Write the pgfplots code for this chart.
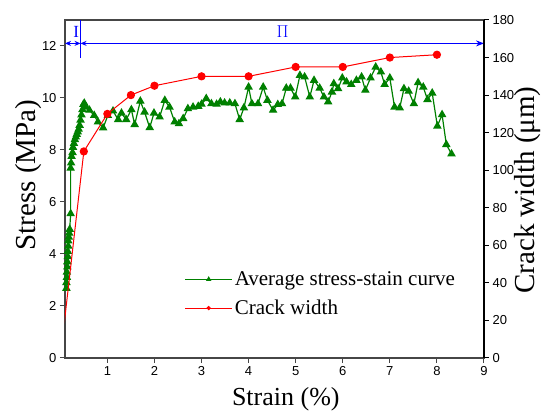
\documentclass[border=0pt]{standalone}
\usepackage{pgfplots}
\pgfplotsset{compat=1.18}
\usepackage{fontspec}
\setmainfont{Liberation Serif}
\setsansfont{Liberation Sans}
\usetikzlibrary{arrows.meta}
\definecolor{dgreen}{RGB}{0,128,0}
\definecolor{axgray}{RGB}{70,70,70}
\begin{document}
\begin{tikzpicture}
\useasboundingbox (-65pt,-57pt) rectangle (477pt,358pt);
\begin{axis}[
  at={(0pt,0pt)}, anchor=south west,
  scale only axis, width=419pt, height=338pt,
  xmin=0.1, xmax=9, ymin=0, ymax=13,
  xtick={1,2,...,9}, ytick={0,2,...,12},
  xtick pos=bottom, ytick pos=left,
  tick align=outside, major tick length=5pt,
  axis line style={axgray, line width=1.2pt},
  every tick/.style={axgray, line width=1pt},
  /pgf/number format/assume math mode=true,
  tick label style={font=\sffamily\fontsize{13}{15}\selectfont},
  xlabel={Strain (\%)}, ylabel={Stress (MPa)},
  xlabel style={font=\fontsize{26}{30}\selectfont, at={(axis description cs:0.527,-0.121)}, anchor=center},
  ylabel style={font=\fontsize{29}{33}\selectfont, at={(axis description cs:-0.088,0.541)}, anchor=center},
  legend style={draw=none, fill=none, at={(axis description cs:0.285,0.262)}, anchor=north west,
    font=\fontsize{21}{24}\selectfont, row sep=9pt, inner sep=0pt,
    /tikz/every even column/.append style={column sep=5pt}},
  legend cell align=left,
  legend image code/.code={\draw[mark repeat=2,mark phase=2,#1] plot coordinates {(0pt,0pt) (23.5pt,0pt) (47pt,0pt)};},
]
\addlegendimage{dgreen, line width=1.2pt, mark=triangle*, mark size=2pt}
\addlegendentry{Average stress-stain curve}
\addlegendimage{red, line width=1pt, mark=*, mark size=1.6pt}
\addlegendentry{Crack width}
\addplot[forget plot, dgreen, line width=1.2pt, mark=triangle*, mark size=3.8pt] coordinates {
(0.13,2.68) (0.13,2.9) (0.14,3.1) (0.14,3.3) (0.15,3.5) (0.15,3.7) (0.16,3.9) (0.16,4.1) (0.17,4.3) (0.17,4.5) (0.18,4.65) (0.19,4.8) (0.20,4.95) (0.22,5.55) (0.22,7.3) (0.23,7.5) (0.24,7.75) (0.26,7.9) (0.27,8.1) (0.29,8.25) (0.31,8.4) (0.33,8.5) (0.35,8.6) (0.37,8.7) (0.39,8.8) (0.41,8.95) (0.43,9.15) (0.45,9.35) (0.47,9.55) (0.49,9.75) (0.51,9.8) (0.55,9.65) (0.62,9.53) (0.72,9.33) (0.80,9.08) (0.91,8.85) (1.01,9.33) (1.12,9.5) (1.23,9.17) (1.30,9.42) (1.40,9.17) (1.51,9.55) (1.58,8.98) (1.70,9.88) (1.79,9.46) (1.90,8.86) (1.99,9.42) (2.11,9.27) (2.22,9.91) (2.32,9.65) (2.43,9.08) (2.52,9.01) (2.61,9.21) (2.71,9.59) (2.82,9.65) (2.93,9.68) (3.00,9.76) (3.10,9.98) (3.21,9.78) (3.32,9.76) (3.40,9.85) (3.49,9.81) (3.60,9.81) (3.71,9.78) (3.81,9.17) (3.90,9.62) (4.00,10.42) (4.07,9.78) (4.20,9.78) (4.31,10.42) (4.40,9.91) (4.52,9.53) (4.62,9.75) (4.71,9.78) (4.80,10.38) (4.89,10.38) (4.99,10.04) (5.09,10.87) (5.19,10.81) (5.30,10.04) (5.39,10.68) (5.51,10.38) (5.60,10.04) (5.69,9.85) (5.77,10.23) (5.81,10.55) (5.90,10.36) (5.99,10.77) (6.08,10.62) (6.18,10.52) (6.29,10.68) (6.40,10.81) (6.48,10.3) (6.59,10.77) (6.70,11.19) (6.81,11.0) (6.89,10.52) (7.00,10.77) (7.10,9.65) (7.21,9.62) (7.30,10.36) (7.40,10.26) (7.51,9.78) (7.60,10.59) (7.71,10.42) (7.80,9.94) (7.90,10.19) (8.01,8.92) (8.11,9.36) (8.20,8.21) (8.31,7.85)
};
% annotations
\draw[blue, line width=0.9pt] (axis cs:0.43,11.53) -- (axis cs:0.43,13);
\draw[blue, line width=0.9pt, {Stealth[length=6pt,width=5pt]}-{Stealth[length=6pt,width=5pt]}] (axis cs:0.1,12.1) -- (axis cs:0.43,12.1);
\draw[blue, line width=0.9pt, {Stealth[length=6pt,width=5pt]}-{Stealth[length=8pt,width=6pt]}] (axis cs:0.43,12.1) -- (axis cs:9,12.1);
\node[blue, font=\fontsize{17}{19}\selectfont] at (axis cs:0.34,12.55) {I};
\node[blue, font=\fontsize{17}{19}\selectfont] at (axis cs:4.72,12.55) {$\Pi$};
\end{axis}
\begin{axis}[
  at={(0pt,0pt)}, anchor=south west,
  scale only axis, width=419pt, height=338pt,
  xmin=0.1, xmax=9, ymin=0, ymax=180,
  axis x line=none, axis y line*=right,
  ytick={0,20,...,180},
  tick align=outside, major tick length=5pt,
  axis line style={black, line width=1.2pt},
  every tick/.style={black, line width=1pt},
  /pgf/number format/assume math mode=true,
  tick label style={font=\sffamily\fontsize{13}{15}\selectfont},
  ylabel={Crack width (μm)},
  ylabel style={font=\fontsize{29}{33}\selectfont, at={(axis description cs:1.105,0.497)}, anchor=center},
]
\addplot[red, line width=1pt, mark=*, mark size=3.6pt] coordinates {
(0,0) (0.5,110) (1,130) (1.5,140) (2,145) (3,150) (4,150) (5,155) (6,155) (7,160) (8,161.5)
};
\end{axis}
\end{tikzpicture}
\end{document}
